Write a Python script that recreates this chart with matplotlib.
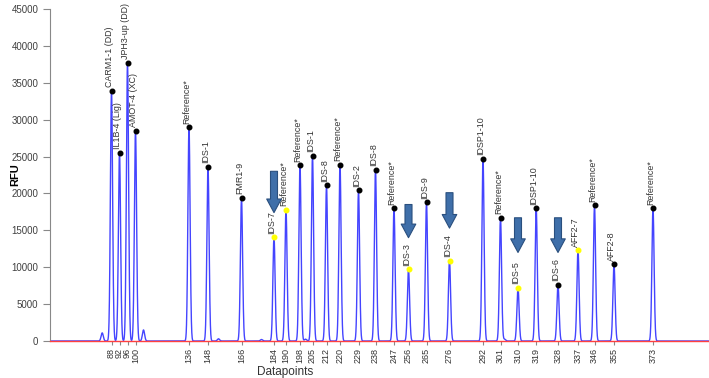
import numpy as np
import matplotlib.pyplot as plt

plt.rcParams['font.family'] = ['Liberation Sans', 'DejaVu Sans']

# peak table: scan position (pixel-like units), size label, height (RFU), name
peak_scan = [61.5, 69.5, 77.5, 85.5, 139, 158, 191.5, 224, 236, 250, 262.5, 276.5,
             290, 308.5, 325.5, 344, 358.5, 376.5, 399.5, 433, 450.5, 468, 486.2,
             508, 528, 544.5, 564, 603]
peak_size = [88, 92, 96, 100, 136, 148, 166, 184, 190, 198, 205, 212, 220, 229,
             238, 247, 256, 265, 276, 292, 301, 310, 319, 328, 337, 346, 355, 373]
peak_rfu = [33900, 25500, 37700, 28500, 29000, 23600, 19400, 14100, 17800, 23800,
            25100, 21100, 23900, 20400, 23200, 18000, 9700, 18800, 10900, 24700,
            16700, 7200, 18000, 7600, 12300, 18400, 10400, 18000]
peak_name = ['CARM1-1 (DD)', 'IL1B-4 (Lig)', 'JPH3-up (DD)', 'AMOT-4 (XC)',
             'Reference*', 'IDS-1', 'FMR1-9', 'IDS-7', 'Reference*', 'Reference*',
             'IDS-1', 'IDS-8', 'Reference*', 'IDS-2', 'IDS-8', 'Reference*',
             'IDS-3', 'IDS-9', 'IDS-4', 'IDSP1-10', 'Reference*', 'IDS-5',
             'IDSP1-10', 'IDS-6', 'AFF2-7', 'Reference*', 'AFF2-8', 'Reference*']
# peaks marked with a yellow dot
yellow_idx = [7, 8, 16, 18, 21, 24]

# small artefact peaks
minor_scan = [52.2, 93.5, 168.5, 211.5, 255.5, 454.5]
minor_rfu = [1100, 1500, 300, 200, 250, 250]

# arrows: peak index, top and tip (RFU)
arrow_idx = [7, 16, 18, 21, 23]
arrow_top = [23000, 18500, 20100, 16700, 16700]
arrow_tip = [17400, 14000, 15300, 12000, 12000]

fig = plt.figure(figsize=(7.09, 3.78), dpi=100)
ax = fig.add_axes([50 / 709, 37 / 378, 659 / 709, 332 / 378])

x = np.linspace(0, 659, 6591)
y = np.zeros_like(x)
for s, h in zip(peak_scan + minor_scan, peak_rfu + minor_rfu):
    y += h * np.exp(-0.5 * ((x - s) / 1.1) ** 2)
ax.plot(x, y, color='#4444ff', lw=1.0, zorder=2)

for i, (s, h, name) in enumerate(zip(peak_scan, peak_rfu, peak_name)):
    c = '#ffff00' if i in yellow_idx else 'black'
    ax.plot(s, h, 'o', ms=3.3, color=c, mec=c, zorder=4)
    ax.annotate(name, (s, h), xytext=(-1.5, 2.5), textcoords='offset points',
                rotation=90, ha='center', va='bottom', fontsize=6.4,
                color='#333333')

for i, top, tip in zip(arrow_idx, arrow_top, arrow_tip):
    ax.annotate('', xy=(peak_scan[i], tip), xytext=(peak_scan[i], top),
                arrowprops=dict(arrowstyle='simple,head_length=0.7,head_width=0.75,tail_width=0.36',
                                fc='#3f6fa9', ec='#2a4f7e', lw=0.8,
                                mutation_scale=14, shrinkA=0, shrinkB=0),
                zorder=5)

ax.set_xlim(0, 659)
ax.set_ylim(0, 45000)
ax.set_yticks(np.arange(0, 45001, 5000))
ax.set_xticks(peak_scan)
ax.set_xticklabels([str(v) for v in peak_size], rotation=90, fontsize=6.5,
                   color='#333333')
ax.tick_params(axis='y', labelsize=7, labelcolor='#404040', length=5,
               width=0.8, color='#888888')
ax.tick_params(axis='x', length=3, width=0.8, color='#888888', pad=2)
for sp in ['top', 'right']:
    ax.spines[sp].set_visible(False)
ax.spines['left'].set_color('#888888')
ax.spines['bottom'].set_color('#ff4040')
ax.spines['bottom'].set_linewidth(1.0)

fig.text(285 / 709, 1 - 372 / 378, 'Datapoints', ha='center', va='center',
         fontsize=8.5, color='#333333')
fig.text(15 / 709, 1 - 175 / 378, 'RFU', rotation=90, ha='center',
         va='center', fontsize=8, fontweight='bold')

fig.savefig('out.png', dpi=100)
